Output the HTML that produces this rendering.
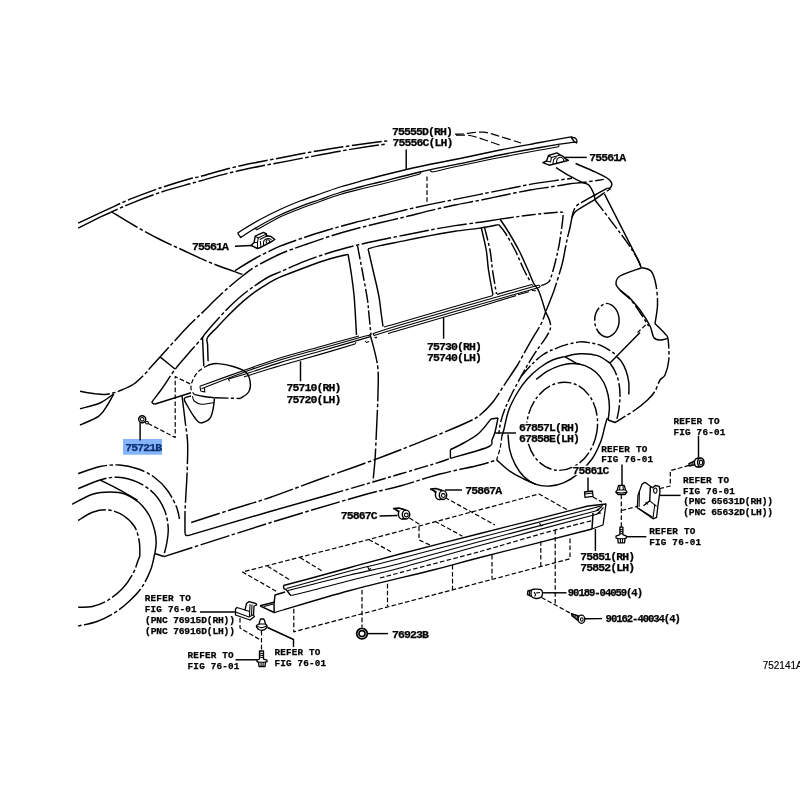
<!DOCTYPE html>
<html><head><meta charset="utf-8"><title>Parts diagram</title>
<style>
html,body{margin:0;padding:0;background:#fff;}
body{width:800px;height:800px;overflow:hidden;font-family:"Liberation Mono",monospace;}
svg{display:block}
path,circle,ellipse,line,rect{fill:none;stroke:#000;stroke-width:1.45;stroke-linecap:butt;stroke-linejoin:round}
.s{}
.t{stroke-width:1.05}
.h{stroke-width:1.3}
.m{stroke-width:1.1}
.c{stroke-dasharray:30 2.5 3.5 2.5}
.c2{stroke-dasharray:14 2.5 3 2.5}
.c3{stroke-dasharray:9 3;stroke-width:1.2}
.d{stroke-dasharray:4.6 2.3;stroke-width:1.2}
.f{fill:#fff}
.k{fill:#000}
text{font-family:"Liberation Mono",monospace;font-weight:bold;fill:#000;stroke:#000;stroke-width:0.25px}
.p{font-size:11.5px;letter-spacing:-0.9px;transform:translate(-0.5px,-0.5px)}
.q{font-size:10.6px;letter-spacing:-1.06px}
.r{font-size:9.3px;letter-spacing:0.2px}
.r2{font-size:9.6px;letter-spacing:-0.15px}
.n{stroke:#000;stroke-width:0.15px;font-family:"Liberation Sans",sans-serif;font-weight:normal;font-size:10px;letter-spacing:0}
</style></head><body>
<div style="will-change:transform;width:800px;height:800px">
<svg width="800" height="800" viewBox="0 0 800 800">
<rect x="0" y="0" width="800" height="800" style="fill:#fff;stroke:none"/>
<rect x="123" y="439" width="39.1" height="15.75" style="fill:#86b4fb;stroke:none"/>
<path class="s" d="M78.2,223.2 L100.0,212.8 L113.0,206.9"/>
<path class="c" d="M113.0,206.9 C115.8,205.6 122.2,202.4 130.0,199.2 C137.8,196.1 150.0,191.4 160.0,188.0 C170.0,184.6 183.3,180.6 190.0,178.7 C196.7,176.8 193.3,178.2 200.0,176.5 C206.7,174.8 220.0,170.7 230.0,168.2 C240.0,165.8 250.0,163.8 260.0,161.8 C270.0,159.8 281.7,157.6 290.0,156.0 C298.3,154.4 301.7,153.7 310.0,152.2 C318.3,150.8 330.0,148.8 340.0,147.3 C350.0,145.8 362.1,144.1 370.0,143.0 C377.9,141.9 384.4,141.3 387.2,141.0" style="stroke-dashoffset:22"/>
<path class="s" d="M78.2,228.2 L100.0,217.2 L110.5,212.5"/>
<path class="c" d="M110.5,212.5 C113.8,211.0 121.8,207.1 130.0,203.8 C138.2,200.4 150.0,195.8 160.0,192.5 C170.0,189.2 183.3,185.7 190.0,183.8 C196.7,181.9 193.3,182.8 200.0,181.0 C206.7,179.2 220.0,175.2 230.0,172.8 C240.0,170.3 250.0,168.3 260.0,166.3 C270.0,164.3 281.7,162.2 290.0,160.6 C298.3,159.0 301.7,158.3 310.0,156.8 C318.3,155.2 330.0,152.9 340.0,151.2 C350.0,149.4 362.1,147.4 370.0,146.2 C377.9,145.1 384.4,144.4 387.2,144.0" style="stroke-dashoffset:22"/>
<path class="c3" d="M455.0,134.2 C456.2,134.2 457.3,134.3 462.0,134.0 C466.7,133.7 476.7,131.8 483.0,132.2 C489.3,132.6 493.7,134.7 500.0,136.5 C506.3,138.3 517.5,141.9 521.0,143.0"/>
<path class="c3" d="M456.0,135.2 C458.3,135.2 465.2,134.7 470.0,135.5 C474.8,136.3 479.6,138.2 485.0,140.0 C490.4,141.8 499.6,145.0 502.5,146.0"/>
<path class="c" d="M111.8,212.0 C115.6,214.3 127.0,221.4 135.0,226.0 C143.0,230.6 152.1,235.5 160.0,239.5 C167.9,243.5 174.2,246.2 182.5,250.0 C190.8,253.8 200.0,258.4 210.0,262.5 C220.0,266.6 237.1,272.4 242.5,274.4"/>
<path class="c" d="M235.0,270.6 C238.3,268.6 247.5,262.6 255.0,258.5 C262.5,254.4 271.7,249.8 280.0,246.2 C288.3,242.7 296.7,240.1 305.0,237.2 C313.3,234.4 321.7,231.9 330.0,229.4 C338.3,226.9 346.7,224.7 355.0,222.5 C363.3,220.3 371.7,218.3 380.0,216.2 C388.3,214.2 396.7,212.0 405.0,210.0 C413.3,208.0 421.7,206.2 430.0,204.4 C438.3,202.6 446.7,201.1 455.0,199.4 C463.3,197.7 471.7,196.1 480.0,194.4 C488.3,192.7 496.7,191.1 505.0,189.4 C513.3,187.7 521.7,185.9 530.0,184.4 C538.3,182.9 548.0,181.6 555.0,180.6 C562.0,179.6 569.2,178.7 572.0,178.3"/>
<path class="c" d="M80.0,391.2 C82.5,391.7 90.8,393.2 95.0,393.8 C99.2,394.3 102.1,394.6 105.0,394.5 C107.9,394.4 110.2,393.6 112.5,393.0 C114.8,392.4 115.2,392.7 118.8,391.2 C122.3,389.7 129.1,387.2 133.8,384.0 C138.4,380.8 144.2,374.6 146.9,371.9 C149.6,369.2 147.8,370.5 150.0,368.0 C152.2,365.5 155.0,362.4 160.0,356.9 C165.0,351.4 175.4,340.0 180.0,335.0 C184.6,330.0 183.3,331.1 187.5,326.9 C191.7,322.7 200.4,314.5 205.0,310.0 C209.6,305.5 210.8,304.0 215.0,300.0 C219.2,296.0 225.2,290.4 230.0,286.2 C234.8,282.1 239.6,278.2 243.8,275.0 C247.9,271.8 249.0,270.4 255.0,266.9 C261.0,263.4 271.7,257.7 280.0,254.0 C288.3,250.3 296.7,247.7 305.0,244.8 C313.3,241.8 321.7,238.9 330.0,236.2 C338.3,233.6 346.7,231.2 355.0,229.0 C363.3,226.8 371.7,224.8 380.0,222.8 C388.3,220.8 396.7,218.9 405.0,216.9 C413.3,214.9 421.7,212.6 430.0,210.6 C438.3,208.6 446.7,206.7 455.0,205.0 C463.3,203.3 471.7,201.9 480.0,200.2 C488.3,198.5 496.7,196.7 505.0,195.0 C513.3,193.3 521.7,191.5 530.0,190.0 C538.3,188.5 548.3,187.3 555.0,186.2 C561.7,185.2 565.4,184.4 570.0,183.8 C574.6,183.1 576.9,183.2 582.5,182.5 C588.1,181.8 600.2,179.9 603.8,179.4"/>
<path class="c" d="M153.0,400.5 C154.5,398.5 158.2,393.9 161.9,388.8 C165.6,383.6 170.7,375.2 175.0,369.4 C179.3,363.6 183.4,359.3 188.0,354.0 C192.6,348.7 199.7,340.9 202.5,337.5 C205.3,334.1 202.5,336.8 205.0,333.8 C207.5,330.7 213.3,324.0 217.5,319.4 C221.7,314.8 225.8,310.3 230.0,306.2 C234.2,302.2 238.3,298.4 242.5,295.0 C246.7,291.6 250.8,288.5 255.0,285.6 C259.2,282.7 263.3,279.8 267.5,277.5 C271.7,275.2 273.8,274.6 280.0,271.9 C286.2,269.2 296.7,264.5 305.0,261.2 C313.3,258.0 321.7,255.1 330.0,252.5 C338.3,249.9 346.7,247.7 355.0,245.6 C363.3,243.5 371.7,241.8 380.0,240.0 C388.3,238.2 396.7,236.7 405.0,235.0 C413.3,233.3 421.7,231.6 430.0,230.0 C438.3,228.4 446.7,226.9 455.0,225.6 C463.3,224.3 472.5,223.3 480.0,222.2 C487.5,221.1 496.7,219.6 500.0,219.1"/>
<path class="c2" d="M500.0,219.1 C505.0,218.4 520.8,216.1 530.0,215.0 C539.2,213.9 549.8,213.0 555.0,212.5 C560.2,212.0 559.9,211.9 561.2,212.2 C562.6,212.6 563.1,211.2 563.1,214.4 C563.1,217.6 562.1,225.3 561.2,231.2 C560.4,237.2 559.6,243.1 558.1,250.0 C556.6,256.9 554.1,267.2 552.5,272.5 C550.9,277.8 550.6,279.7 548.8,281.9 C546.9,284.1 542.5,285.0 541.2,285.6"/>
<path class="s" d="M208.1,361.2 C208.0,358.5 207.7,349.0 207.6,345.0 C207.5,341.0 205.8,340.5 207.5,337.5 C209.2,334.5 213.8,330.9 217.5,326.9 C221.2,322.9 225.8,317.9 230.0,313.8 C234.2,309.6 238.3,305.5 242.5,301.9 C246.7,298.3 250.8,294.9 255.0,291.9 C259.2,288.9 263.3,286.2 267.5,283.8 C271.7,281.3 273.8,279.9 280.0,277.2 C286.2,274.5 296.7,270.6 305.0,267.5 C313.3,264.4 322.8,260.9 330.0,258.8 C337.2,256.6 345.1,255.1 348.1,254.4"/>
<path class="s" d="M202.5,337.5 L203.8,366.2"/>
<path class="s" d="M348.1,254.4 C348.7,257.8 350.5,268.2 351.5,275.0 C352.5,281.8 353.4,288.8 354.0,295.0 C354.6,301.2 354.8,305.3 355.2,312.0 C355.6,318.7 356.3,331.2 356.5,335.0"/>
<path class="c2" d="M357.5,245.6 C358.3,250.0 360.8,262.9 362.5,272.0 C364.2,281.1 366.5,293.3 367.5,300.0 C368.5,306.7 368.1,306.2 368.7,312.0 C369.3,317.8 370.6,331.2 371.0,335.0"/>
<path class="s" d="M368.1,248.8 C368.8,252.0 371.1,262.0 372.5,268.0 C373.9,274.0 375.3,279.7 376.5,285.0 C377.7,290.3 378.8,295.5 379.5,300.0 C380.2,304.5 380.4,307.6 381.0,312.0 C381.6,316.4 382.7,324.1 383.0,326.5"/>
<path class="s" d="M368.1,248.8 C370.1,248.2 373.9,247.0 380.0,245.6 C386.1,244.2 396.7,242.3 405.0,240.6 C413.3,238.9 421.7,237.2 430.0,235.6 C438.3,234.0 446.7,232.5 455.0,231.2 C463.3,230.0 472.7,229.2 480.0,228.1 C487.3,227.0 495.6,225.2 498.8,224.6"/>
<path class="s" d="M481.2,227.5 C482.1,231.2 485.0,242.9 486.2,250.0 C487.5,257.1 487.4,262.5 488.5,270.0 C489.6,277.5 492.2,290.8 493.0,295.0"/>
<path class="c2" d="M484.4,226.9 C485.3,230.8 488.6,242.8 490.0,250.0 C491.4,257.2 491.4,262.7 492.5,270.0 C493.6,277.3 495.8,290.0 496.5,294.0"/>
<path class="s" d="M500.0,219.1 C501.5,221.3 505.6,227.3 508.8,232.5 C511.9,237.7 515.5,243.8 518.8,250.0 C522.0,256.2 525.5,264.5 528.0,270.0 C530.5,275.5 531.7,279.4 533.5,283.0 C535.3,286.6 537.0,286.7 539.0,291.5 C541.0,296.3 544.5,308.5 545.6,311.9"/>
<path class="c2" d="M498.8,224.6 C499.8,225.9 502.3,228.3 505.0,232.5 C507.7,236.7 511.8,243.8 515.0,250.0 C518.2,256.2 521.5,264.8 524.0,270.0 C526.5,275.2 529.0,279.2 530.0,281.0"/>
<path class="c2" d="M545.6,311.9 C546.2,313.2 548.6,317.6 549.4,320.0 C550.2,322.4 550.6,324.4 550.6,326.2 C550.6,328.1 550.3,329.2 549.4,331.2 C548.5,333.3 547.2,335.4 545.0,338.8 C542.8,342.1 539.2,346.9 536.2,351.2 C533.3,355.6 530.0,360.8 527.5,365.0 C525.0,369.2 523.8,371.7 521.2,376.2 C518.8,380.8 515.2,387.1 512.5,392.5 C509.8,397.9 507.0,403.8 505.0,408.8 C503.0,413.8 501.6,418.3 500.6,422.5 C499.6,426.7 499.1,431.9 498.8,433.8"/>
<path class="c" d="M607.5,188.1 C605.4,189.2 599.2,192.7 595.0,195.0 C590.8,197.3 585.6,200.0 582.5,201.9 C579.4,203.8 577.8,204.5 576.2,206.2 C574.7,208.0 574.1,209.0 573.1,212.5 C572.1,216.0 570.9,223.3 570.0,227.5 C569.1,231.7 568.3,233.8 567.5,237.5 C566.7,241.2 565.9,245.4 565.0,250.0 C564.1,254.6 563.7,258.4 561.9,265.0 C560.1,271.6 556.4,283.4 554.4,289.4 C552.4,295.4 551.5,297.2 550.0,301.0 C548.5,304.8 546.3,310.1 545.6,311.9"/>
<path class="s" d="M603.8,193.1 C602.3,194.2 598.5,197.1 595.0,199.4 C591.5,201.7 585.8,204.8 582.5,206.9 C579.2,209.0 576.8,210.1 575.0,211.9 C573.2,213.7 572.4,216.6 571.9,217.5"/>
<path class="c" d="M191.2,522.5 C197.7,520.4 216.9,514.2 230.0,510.0 C243.1,505.8 255.4,502.5 270.0,497.5 C284.6,492.5 302.5,485.4 317.5,480.0 C332.5,474.6 346.2,470.0 360.0,465.0 C373.8,460.0 386.7,455.2 400.0,450.0 C413.3,444.8 428.3,438.8 440.0,434.0 C451.7,429.2 463.3,424.2 470.0,421.0 C476.7,417.8 476.2,418.1 480.0,415.0 C483.8,411.9 488.3,407.7 492.5,402.5 C496.7,397.3 500.8,390.0 505.0,383.8 C509.2,377.5 514.4,370.0 517.5,365.0 C520.6,360.0 521.0,358.5 523.8,353.8 C526.5,349.0 530.8,341.2 533.8,336.2 C536.7,331.2 539.3,327.8 541.2,323.8 C543.2,319.7 544.9,313.9 545.6,311.9"/>
<path class="s" d="M575.6,163.5 C578.8,164.9 589.9,169.6 595.0,171.9 C600.1,174.2 603.6,175.9 606.2,177.5 C608.9,179.1 609.7,180.1 610.6,181.2 C611.5,182.4 612.0,183.3 611.9,184.4 C611.8,185.5 610.7,187.5 610.0,188.1 C609.3,188.7 607.9,188.1 607.5,188.1"/>
<path class="d" d="M610.6,188.8 L603.8,193.1"/>
<path class="s" d="M556.0,167.5 C558.3,169.0 565.6,173.8 570.0,176.2 C574.4,178.8 579.4,181.0 582.5,182.5 C585.6,184.0 586.9,183.1 588.8,185.0 C590.6,186.9 592.7,191.2 593.8,193.8 C594.8,196.2 594.8,199.0 595.0,200.0"/>
<path class="c2" d="M595.0,200.0 C597.1,202.7 602.3,209.4 607.5,216.2 C612.7,223.1 621.2,234.2 626.2,241.2 C631.2,248.3 635.0,254.4 637.5,258.8 C640.0,263.1 640.6,266.0 641.2,267.5"/>
<path class="s" d="M604.4,193.8 L637.5,258.8 L641.2,267.5"/>
<path class="c" d="M641.2,267.5 C642.9,268.1 648.5,268.1 651.0,271.0 C653.5,273.9 654.9,279.3 656.0,285.0 C657.1,290.7 657.7,298.5 657.5,305.0 C657.3,311.5 655.4,320.6 655.0,323.8"/>
<path class="s" d="M641.2,268.0 C637.7,269.3 624.2,273.4 620.0,276.0 C615.8,278.6 616.0,281.4 616.0,283.8 C616.0,286.1 617.7,287.5 620.0,290.0 C622.3,292.5 628.3,297.3 630.0,298.8"/>
<path class="c2" d="M620.0,290.0 C621.7,291.5 626.7,295.0 630.0,298.8 C633.3,302.5 636.9,307.9 640.0,312.5 C643.1,317.1 647.3,324.0 648.8,326.2"/>
<path class="s" d="M628.0,296.0 C630.0,298.3 636.3,305.0 640.0,310.0 C643.7,315.0 647.7,321.4 650.0,326.0 C652.3,330.6 652.1,335.2 653.8,337.5 C655.4,339.8 657.7,339.8 660.0,340.0 C662.3,340.2 666.2,338.8 667.5,338.5"/>
<path class="c" d="M655.0,323.8 C656.7,325.4 662.8,331.1 665.0,333.8 C667.2,336.4 667.5,335.0 668.1,339.4 C668.7,343.8 669.3,354.1 668.8,360.0 C668.2,365.9 666.5,371.7 665.0,375.0 C663.5,378.3 661.7,377.3 660.0,380.0 C658.3,382.7 657.1,387.9 655.0,391.2 C652.9,394.6 650.8,396.9 647.5,400.0 C644.2,403.1 640.2,406.4 635.0,410.0 C629.8,413.6 619.4,419.9 616.2,421.9"/>
<path class="d" d="M645.6,325.0 L637.5,332.5"/>
<path class="s" d="M640.0,332.5 L610.0,363.1"/>
<path class="s" d="M606.9,303.4 A13.7,17 0 0 1 606.9,337.2"/>
<path class="c2" d="M606.9,337.2 A13.7,17 0 0 1 606.9,303.4"/>
<path class="c2" d="M521.2,376.2 C522.7,374.6 526.5,369.8 530.0,366.2 C533.5,362.7 538.3,357.9 542.5,355.0 C546.7,352.1 550.8,350.5 555.0,348.8 C559.2,347.0 563.3,345.5 567.5,344.4 C571.7,343.3 576.2,342.2 580.0,341.9 C583.8,341.6 586.5,342.2 590.0,342.8 C593.5,343.4 597.3,343.9 601.2,345.6 C605.2,347.3 611.1,351.2 613.8,353.1 C616.4,355.0 616.4,356.3 616.9,356.9"/>
<path class="s" d="M616.9,356.9 C617.6,357.6 619.7,358.9 621.2,361.2 C622.8,363.6 625.0,367.7 626.2,371.2 C627.5,374.8 628.3,378.6 628.8,382.5 C629.2,386.4 628.8,392.4 628.8,394.4"/>
<path class="s" d="M501.9,436.2 C502.2,435.2 502.6,434.4 503.8,430.0 C504.9,425.6 506.5,416.2 508.8,410.0 C511.0,403.8 514.4,397.7 517.5,392.5 C520.6,387.3 523.8,382.9 527.5,378.8 C531.2,374.6 535.8,370.6 540.0,367.5 C544.2,364.4 548.3,361.8 552.5,360.0 C556.7,358.2 560.4,357.6 565.0,356.6 C569.6,355.6 574.6,353.9 580.0,353.8 C585.4,353.6 592.5,354.0 597.5,355.6 C602.5,357.2 607.9,361.9 610.0,363.1"/>
<path class="c2" d="M610.0,363.1 C610.8,364.5 613.5,368.0 615.0,371.2 C616.5,374.5 617.9,378.5 618.8,382.5 C619.6,386.5 620.0,390.4 620.0,395.0 C620.0,399.6 619.4,405.5 618.8,410.0 C618.1,414.5 616.7,419.9 616.2,421.9"/>
<path class="d" d="M501.9,436.2 C501.6,438.3 500.9,444.6 500.0,448.5 C499.1,452.4 497.2,458.0 496.6,459.9"/>
<path class="s" d="M536.2,379.4 C538.1,378.0 543.5,373.6 547.5,371.2 C551.5,368.9 555.8,366.9 560.0,365.6 C564.2,364.3 568.3,363.4 572.5,363.4 C576.7,363.4 581.0,364.1 585.0,365.6 C589.0,367.1 593.1,369.7 596.2,372.5 C599.4,375.3 601.8,378.8 603.8,382.5 C605.7,386.2 607.2,390.8 608.1,395.0 C609.0,399.2 609.4,403.3 609.4,407.5 C609.4,411.7 608.3,417.9 608.1,420.0"/>
<path class="s" d="M565.0,356.9 L576.2,363.1 L580.0,364.4"/>
<path class="s" d="M608.1,420.0 L615.0,422.5 L616.2,421.9"/>
<ellipse class="c2" cx="562" cy="426.3" rx="35.3" ry="44.3" transform="rotate(9.5 562 426.3)"/>
<path class="s" d="M508.0,434.5 C508.3,437.1 508.6,445.3 509.8,450.2 C510.9,455.2 512.7,459.9 515.0,464.2 C517.3,468.6 520.2,473.1 523.8,476.5 C527.2,479.9 531.6,482.8 536.0,484.4 C540.4,486.0 545.3,486.3 550.0,486.0 C554.7,485.7 559.3,484.6 564.0,482.6 C568.7,480.6 573.3,477.8 578.0,473.9 C582.7,470.0 588.2,464.4 592.0,459.0 C595.8,453.6 598.6,447.0 600.8,441.5 C602.9,436.0 603.9,429.7 605.0,425.8 C606.1,421.8 606.9,419.3 607.3,418.0"/>
<path class="s" d="M496.6,459.9 C498.8,461.8 505.2,468.1 509.8,471.2 C514.3,474.4 519.4,476.8 523.8,479.0 C528.1,481.2 534.0,483.5 536.0,484.4"/>
<path class="s" d="M450.4,458.4 C456.7,456.5 481.1,450.1 488.0,447.0 C494.9,443.9 490.8,442.5 492.0,440.0 C493.2,437.5 494.0,435.7 495.0,432.0 C496.0,428.3 497.5,420.3 498.0,418.0"/>
<path class="s" d="M498.0,418.0 L491.0,419.0"/>
<path class="s" d="M491.0,419.0 C488.8,421.5 483.2,429.7 478.0,434.0 C472.8,438.3 464.6,442.4 460.0,445.0 C455.4,447.6 452.0,448.8 450.4,449.6"/>
<path class="s" d="M450.4,449.6 L450.4,458.4"/>
<path class="s" d="M494.0,433.0 L516.0,433.0"/>
<path class="c" d="M370.0,333.8 C371.2,339.0 376.2,355.2 377.5,365.0 C378.8,374.8 378.2,381.7 378.0,392.5 C377.8,403.3 377.0,418.8 376.5,430.0 C376.0,441.2 375.6,451.5 375.0,460.0 C374.4,468.5 373.3,477.5 373.0,481.0"/>
<path class="s" d="M160.0,356.9 L175.0,369.0"/>
<path class="s" d="M153.0,400.5 C152.8,400.8 151.8,401.9 152.0,402.5 C152.2,403.1 154.0,403.9 154.4,404.2"/>
<path class="s" d="M154.4,404.2 L191.0,392.8"/>
<path class="d" d="M190.1,383.9 L175.2,376.6 L175.2,437.5 L147.0,422.9"/>
<path class="s" d="M80.0,408.8 C83.3,407.8 94.4,405.5 100.0,403.0 C105.6,400.5 111.5,395.3 113.8,393.8"/>
<path class="s" d="M80.0,425.0 C83.1,423.5 94.2,419.6 98.8,416.2 C103.3,412.9 105.0,408.8 107.5,405.0 C110.0,401.2 112.7,395.6 113.8,393.8"/>
<path class="c" d="M182.0,396.0 C182.5,400.0 184.1,412.2 185.0,420.0 C185.9,427.8 187.2,434.2 187.6,442.5 C188.0,450.8 187.5,460.4 187.2,470.0 C186.9,479.6 186.0,492.7 185.6,500.0 C185.2,507.3 185.1,508.4 185.0,514.0 C184.9,519.6 185.0,530.2 185.0,533.5"/>
<path class="s" d="M185.0,533.5 C185.2,533.8 185.5,534.9 186.0,535.3 C186.5,535.6 187.7,535.5 188.0,535.6"/>
<path class="s" d="M188.0,535.6 L270.0,511.5 L330.0,494.5"/>
<path class="c2" d="M330.0,494.5 C337.2,492.4 361.3,485.4 373.0,482.0 C384.7,478.6 388.8,477.3 400.0,474.0 C411.2,470.7 431.7,464.6 440.0,462.0 C448.3,459.4 448.3,459.0 450.0,458.4"/>
<path class="s" d="M154.8,553.5 L163.8,556.5"/>
<path class="c" d="M164.0,556.6 C181.7,551.0 237.3,532.9 270.0,522.8 C302.7,512.7 338.3,502.1 360.0,496.0 C381.7,489.9 386.7,489.7 400.0,486.0 C413.3,482.3 426.7,477.5 440.0,474.0 C453.3,470.5 470.6,467.4 480.0,465.0 C489.4,462.6 493.8,460.8 496.6,459.9"/>
<path class="c" d="M78.2,473.7 C81.9,472.5 93.1,467.9 100.0,466.5 C106.9,465.1 113.2,464.6 119.5,465.0 C125.8,465.4 131.8,466.8 137.5,468.8 C143.2,470.8 149.0,473.4 154.0,477.0 C159.0,480.6 163.8,485.5 167.5,490.5 C171.2,495.5 174.5,502.2 176.5,507.0 C178.5,511.8 179.0,517.0 179.5,519.0"/>
<path class="c" d="M78.2,488.7 C81.9,487.2 93.4,481.9 100.0,480.0 C106.6,478.1 111.8,476.9 118.0,477.3 C124.2,477.7 131.5,479.6 137.5,482.2 C143.5,484.9 149.5,488.9 154.0,493.5 C158.5,498.1 162.1,504.2 164.5,510.0 C166.9,515.8 167.9,522.5 168.2,528.0 C168.6,533.5 167.5,538.4 166.8,543.0 C166.0,547.6 164.2,553.6 163.8,555.8"/>
<path class="s" d="M72.2,504.3 C75.6,502.6 86.1,496.3 92.5,494.2 C98.9,492.2 105.0,492.0 110.5,492.0 C116.0,492.0 120.8,492.5 125.5,494.2 C130.2,496.0 135.0,498.9 139.0,502.5 C143.0,506.1 146.9,511.2 149.5,516.0 C152.1,520.8 153.6,526.5 154.8,531.0 C155.9,535.5 156.2,539.2 156.2,543.0 C156.2,546.8 155.0,551.8 154.8,553.5"/>
<path class="s" d="M100.0,480.0 C103.2,481.6 113.2,486.4 119.5,489.8 C125.8,493.1 134.5,498.5 137.5,500.2"/>
<path class="c" d="M78.2,520.5 C80.6,519.1 87.4,514.0 92.5,512.2 C97.6,510.5 103.8,509.4 109.0,510.0 C114.2,510.6 119.8,513.2 124.0,516.0 C128.2,518.8 132.0,522.5 134.5,526.5 C137.0,530.5 138.1,535.2 139.0,540.0 C139.9,544.8 139.9,551.7 139.8,555.0 C139.6,558.3 139.4,556.9 138.2,560.0 C137.1,563.1 135.6,568.8 133.0,573.5 C130.4,578.2 126.8,584.0 122.5,588.5 C118.2,593.0 112.5,597.5 107.5,600.5 C102.5,603.5 97.4,605.4 92.5,606.5 C87.6,607.6 80.6,607.1 78.2,607.2"/>
<path class="c" d="M154.8,553.5 C154.1,556.1 153.1,563.4 151.0,569.0 C148.9,574.6 145.5,581.8 142.0,587.0 C138.5,592.2 134.5,596.2 130.0,600.5 C125.5,604.8 120.5,609.0 115.0,612.5 C109.5,616.0 103.1,619.2 97.0,621.5 C90.9,623.8 81.4,625.2 78.2,626.0"/>
<path class="d" d="M208.0,365.2 C206.4,366.3 200.8,369.1 198.2,371.7 C195.7,374.3 193.8,377.8 192.6,380.6 C191.4,383.4 190.7,386.4 191.0,388.8 C191.3,391.1 193.7,393.5 194.2,394.4"/>
<path class="s" d="M194.2,394.4 C195.8,394.8 200.6,395.9 204.0,396.5 C207.4,397.1 212.8,397.5 214.5,397.7"/>
<path class="c2" d="M214.5,397.7 L240.5,398.5"/>
<path class="s" d="M240.5,398.5 C241.8,397.4 247.0,394.7 248.6,392.0 C250.2,389.3 250.7,385.5 250.2,382.2 C249.8,379.0 248.9,375.1 246.2,372.5 C243.5,369.9 238.7,368.3 234.0,366.8 C229.3,365.3 222.1,363.9 217.8,363.6 C213.4,363.3 209.6,364.9 208.0,365.2"/>
<path class="s" d="M191.0,396.0 C189.9,396.4 185.1,397.0 184.4,398.5 C183.7,400.0 185.1,401.8 186.9,405.0 C188.7,408.2 192.7,415.0 195.0,418.0 C197.3,421.0 198.3,422.8 200.7,422.9 C203.1,423.0 207.6,421.0 209.6,418.8 C211.6,416.6 212.1,413.3 212.9,409.9 C213.7,406.5 214.2,400.4 214.5,398.5"/>
<path class="t" d="M192.5,396.0 C192.8,396.8 192.7,399.6 194.2,401.0 C195.7,402.4 198.2,403.9 201.5,404.2 C204.8,404.4 211.7,402.8 213.7,402.5"/>
<path class="h" d="M238.0,233.9 C238.3,233.5 236.3,233.9 240.0,231.5 C243.7,229.1 253.3,223.2 260.0,219.5 C266.7,215.8 273.3,212.6 280.0,209.5 C286.7,206.4 293.3,203.6 300.0,201.0 C306.7,198.4 313.3,196.3 320.0,194.0 C326.7,191.7 333.3,189.1 340.0,187.0 C346.7,184.9 353.3,183.1 360.0,181.3 C366.7,179.5 370.0,178.5 380.0,176.0 C390.0,173.5 406.7,169.4 420.0,166.5 C433.3,163.6 446.7,161.2 460.0,158.5 C473.3,155.8 486.7,152.7 500.0,150.0 C513.3,147.3 528.2,144.7 540.0,142.5 C551.8,140.3 565.8,137.7 571.0,136.8"/>
<path class="h" d="M571.0,136.8 L575.5,138.2 L577.0,140.5 L576.6,142.8 L574.4,142.0"/>
<path class="s" d="M571.0,136.8 L574.4,142.0"/>
<path class="h" d="M241.0,237.6 C241.2,237.4 238.8,238.5 242.0,236.5 C245.2,234.5 253.7,229.1 260.0,225.5 C266.3,221.9 273.3,218.1 280.0,215.0 C286.7,211.9 293.3,209.3 300.0,206.7 C306.7,204.1 313.3,201.9 320.0,199.5 C326.7,197.1 333.3,194.6 340.0,192.5 C346.7,190.4 353.3,188.8 360.0,187.0 C366.7,185.2 370.0,184.5 380.0,182.0 C390.0,179.5 406.7,175.1 420.0,172.0 C433.3,168.9 446.7,166.5 460.0,163.7 C473.3,160.9 486.7,157.7 500.0,155.0 C513.3,152.3 527.9,149.6 540.0,147.5 C552.1,145.4 566.4,143.2 572.5,142.4 C578.6,141.6 575.9,142.7 576.6,142.8"/>
<path class="h" d="M238.0,233.9 L241.0,237.6"/>
<path class="t" d="M256.5,230.0 C260.4,227.8 272.8,220.6 280.0,217.0 C287.2,213.4 293.3,211.3 300.0,208.7 C306.7,206.1 313.3,203.9 320.0,201.5 C326.7,199.1 333.3,196.6 340.0,194.5 C346.7,192.4 353.3,190.9 360.0,189.2 C366.7,187.5 370.0,187.0 380.0,184.5 C390.0,182.0 413.3,175.8 420.0,174.0"/>
<path class="t" d="M255.5,228.0 L256.5,230.0"/>
<path class="t" d="M420.0,174.0 L421.0,172.3"/>
<path class="t" d="M432.0,172.0 C436.7,171.0 448.7,168.2 460.0,165.8 C471.3,163.4 486.7,160.1 500.0,157.5 C513.3,154.9 530.5,151.8 540.0,150.0 C549.5,148.2 553.8,147.6 557.0,147.0 C560.2,146.4 558.7,146.4 559.0,146.3"/>
<path class="t" d="M430.0,170.5 L432.0,172.0"/>
<path class="t" d="M559.0,146.3 L558.8,145.0"/>
<path class="d" d="M427.0,176.5 L427.0,204.0"/>
<path class="m" d="M199.9,386.3 C208.2,383.3 236.7,372.9 250.0,368.2 C263.4,363.5 268.3,361.6 280.0,358.0 C291.7,354.4 306.8,350.4 320.0,346.7 C333.2,343.0 352.5,337.8 359.0,336.0"/>
<path class="m" d="M201.5,388.8 C209.6,385.6 236.9,374.9 250.0,370.1 C263.1,365.3 268.3,363.6 280.0,360.0 C291.7,356.4 306.7,352.6 320.0,348.8 C333.3,345.1 351.5,339.8 360.0,337.5 C368.5,335.2 369.2,335.4 371.0,335.0"/>
<path class="m" d="M228.3,379.0 C231.9,377.9 241.4,375.2 250.0,372.5 C258.6,369.8 268.3,366.1 280.0,362.6 C291.7,359.1 304.9,355.6 320.0,351.3 C335.1,347.0 362.1,339.1 370.5,336.6"/>
<path class="m" d="M244.0,376.9 C245.0,376.6 244.0,376.9 250.0,375.0 C256.0,373.1 268.3,369.2 280.0,365.8 C291.7,362.4 307.5,358.0 320.0,354.4 C332.5,350.8 349.2,345.7 355.0,344.0"/>
<path class="t" d="M355.0,344.0 L356.0,342.3"/>
<path class="t" d="M228.3,379.0 L229.5,381.3"/>
<path class="m" d="M199.9,386.3 L200.8,391.0 L204.8,392.0 L204.5,388.0"/>
<path class="t" d="M365.0,341.0 L366.5,342.5 L369.0,341.5"/>
<path class="m" d="M384.0,327.0 C386.7,326.2 387.3,326.2 400.0,322.5 C412.7,318.8 444.5,309.5 460.0,305.0 C475.5,300.5 487.5,297.1 493.0,295.5"/>
<path class="m" d="M497.0,294.4 C500.0,293.5 509.2,290.8 515.0,289.2 C520.8,287.6 529.2,285.3 532.0,284.5"/>
<path class="m" d="M373.0,333.5 C377.5,332.1 385.5,329.3 400.0,325.0 C414.5,320.7 441.7,312.8 460.0,307.5 C478.3,302.2 496.8,296.9 510.0,293.2 C523.2,289.4 534.2,286.4 539.0,285.0"/>
<path class="m" d="M374.0,335.6 C378.3,334.2 385.7,331.8 400.0,327.5 C414.3,323.2 441.7,315.3 460.0,310.0 C478.3,304.7 496.8,299.4 510.0,295.7 C523.2,291.9 534.2,288.9 539.0,287.5"/>
<path class="m" d="M388.0,333.6 C390.0,333.0 388.0,333.5 400.0,330.0 C412.0,326.5 440.7,318.2 460.0,312.5 C479.3,306.8 506.7,298.4 516.0,295.6"/>
<path class="t" d="M373.0,333.5 L374.0,335.6"/>
<path class="t" d="M539.0,285.0 L540.2,286.6 L539.0,287.5"/>
<path class="t" d="M532.0,284.5 L533.0,285.8"/>
<path class="t" d="M518.0,294.8 L529.0,291.8"/>
<path class="t" d="M532.0,290.5 L536.0,290.8"/>
<path class="t" d="M374.5,337.0 L376.0,338.0 L377.0,336.8"/>
<path class="h" d="M283.5,585.5 C287.9,584.3 298.9,581.5 310.0,578.5 C321.1,575.5 335.0,571.6 350.0,567.5 C365.0,563.4 378.3,559.7 400.0,554.0 C421.7,548.3 456.7,539.5 480.0,533.5 C503.3,527.5 522.0,522.9 540.0,518.3 C558.0,513.7 580.0,508.1 588.0,506.0"/>
<path class="h" d="M588.0,506.0 L606.0,504.0 L603.0,525.0 L592.0,529.0"/>
<path class="h" d="M592.0,529.0 C573.3,533.8 506.5,550.7 480.0,557.5 C453.5,564.3 454.7,564.5 433.0,570.0 C411.3,575.5 375.0,583.8 350.0,590.5 C325.0,597.2 295.6,606.3 283.0,610.0 C270.4,613.7 275.7,612.1 274.2,612.5"/>
<path class="m" d="M286.5,588.5 C290.4,587.4 299.4,584.9 310.0,582.0 C320.6,579.1 335.0,574.9 350.0,571.0 C365.0,567.1 378.3,564.1 400.0,558.5 C421.7,552.9 449.0,545.6 480.0,537.5 C511.0,529.4 566.7,515.0 586.0,510.0 C605.3,505.0 593.2,508.1 596.0,507.3 C598.8,506.6 601.8,505.8 603.0,505.5"/>
<path class="m" d="M288.0,590.5 C291.7,589.6 299.7,587.6 310.0,585.0 C320.3,582.4 335.0,578.6 350.0,575.0 C365.0,571.4 378.3,569.1 400.0,563.5 C421.7,557.9 448.7,549.9 480.0,541.5 C511.3,533.1 568.5,518.2 588.0,513.0 C607.5,507.8 594.7,511.1 597.0,510.0 C599.3,508.9 601.2,507.1 602.0,506.5"/>
<path class="m" d="M291.5,595.5 C294.6,594.8 300.2,593.5 310.0,591.0 C319.8,588.5 335.0,584.3 350.0,580.5 C365.0,576.7 378.3,573.8 400.0,568.0 C421.7,562.2 448.3,554.2 480.0,545.5 C511.7,536.8 570.3,521.4 590.0,516.0 C609.7,510.6 595.8,514.4 598.0,513.0 C600.2,511.6 602.6,508.4 603.5,507.5"/>
<path class="d" d="M380.0,578.0 C385.0,576.7 393.3,574.4 410.0,570.0 C426.7,565.6 457.3,557.8 480.0,551.5 C502.7,545.2 527.2,537.7 546.0,532.5 C564.8,527.3 584.8,522.5 592.5,520.5"/>
<path class="s" d="M593.0,513.0 L592.0,529.0"/>
<path class="t" d="M367.5,566.5 L369.0,569.5 L371.0,568.5"/>
<path class="t" d="M539.5,523.0 L541.0,526.0 L543.0,525.0"/>
<path class="s" d="M283.5,585.5 C283.6,586.0 283.5,587.8 284.0,588.5 C284.5,589.2 285.5,589.0 286.5,590.0 C287.5,591.0 289.2,593.6 290.0,594.5 C290.8,595.4 291.2,595.3 291.5,595.5"/>
<path class="s" d="M285.0,592.0 L275.0,595.0 L274.0,604.0 L274.2,612.5"/>
<path class="s" d="M260.0,605.8 L274.2,612.5"/>
<path class="s" d="M260.0,605.8 L275.0,602.0"/>
<path class="t" d="M263.8,606.5 L273.5,604.0"/>
<path class="d" d="M276.2,591.2 L242.5,572.0 L368.8,539.5 L539.0,494.0 L567.5,510.0"/>
<path class="d" d="M267.5,566.2 L290.0,580.0"/>
<path class="d" d="M300.0,557.5 L322.5,571.2"/>
<path class="d" d="M368.8,539.5 L392.5,552.5"/>
<path class="d" d="M435.0,521.2 L462.5,536.2"/>
<path class="d" d="M445.0,497.5 L495.0,525.0"/>
<path class="d" d="M293.8,608.8 L293.8,631.8 L570.0,558.8 L570.0,536.2"/>
<path class="d" d="M362.0,590.0 L362.0,627.5"/>
<path class="d" d="M387.5,583.8 L387.5,606.2"/>
<path class="d" d="M452.5,565.0 L452.5,589.5"/>
<path class="d" d="M492.0,555.0 L492.0,578.8"/>
<path class="d" d="M540.8,541.2 L540.8,566.2"/>
<path class="d" d="M555.2,530.0 L555.2,604.0"/>
<path class="d" d="M541.5,597.5 L570.0,613.0"/>
<path class="d" d="M409.5,518.0 L419.0,524.0 L419.0,540.0 L430.0,545.0"/>
<path class="s" d="M406.2,149.5 L406.2,169.5"/>
<path class="s" d="M235.0,246.2 L251.1,245.5"/>
<path class="s" d="M565.0,157.4 L586.8,157.4"/>
<path class="s" d="M300.5,361.2 L300.5,381.2"/>
<path class="s" d="M443.6,317.5 L443.6,338.8"/>
<path class="s" d="M140.1,422.5 L140.1,440.5"/>
<path class="s" d="M445.0,490.0 L462.0,490.0"/>
<path class="s" d="M379.5,516.0 L397.5,515.5"/>
<path class="s" d="M588.0,477.5 L588.0,491.0"/>
<path class="s" d="M595.4,529.0 L595.4,551.0"/>
<path class="s" d="M368.0,633.6 L388.0,633.6"/>
<path class="s" d="M542.5,592.8 L566.5,592.8"/>
<path class="s" d="M585.0,618.8 L602.0,618.6"/>
<path class="s" d="M698.5,436.0 L698.5,457.6"/>
<path class="s" d="M622.0,464.5 L622.0,485.0"/>
<path class="s" d="M626.3,536.7 L646.3,536.7"/>
<path class="s" d="M659.3,495.4 L680.6,495.4"/>
<path class="s" d="M200.0,612.0 L235.5,612.0"/>
<path class="s" d="M235.5,659.8 L257.5,659.8"/>
<path class="s" d="M267.5,627.5 L293.5,639.5 L293.5,647.0"/>
<path class="d" d="M689.0,465.4 L670.3,470.6 L670.3,486.0 L660.0,488.5"/>
<path class="d" d="M621.3,494.7 L621.3,527.0"/>
<path class="d" d="M621.5,510.5 L637.3,506.4"/>
<path class="d" d="M593.0,497.0 L602.0,502.0"/>
<path class="d" d="M240.0,618.0 L240.0,628.0 L260.5,640.0"/>
<path class="d" d="M261.5,631.0 L261.5,650.5"/>
<path class="s" d="M251.1,245.5 L254.1,242.5 L255.2,236.1 L263.5,232.4 L266.5,233.9 L266.3,236.3 L267.2,235.8 L271.0,236.5 L274.8,239.5 L272.5,241.0 L259.8,247.8 L257.5,248.5Z"/>
<path class="t" d="M255.2,236.1 L258.2,238.0 L266.5,233.9"/>
<path class="t" d="M258.2,238.0 L257.5,242.5 L254.1,242.5"/>
<path class="t" d="M259.8,239.5 L266.3,236.3"/>
<path class="t" d="M260.3,241.0 L260.9,246.6"/>
<path class="t" d="M257.5,242.5 L257.5,248.5"/>
<circle cx="267.8" cy="241.6" r="1.8" class="t"/>
<path class="t" d="M263.5,245.5 C263.6,244.7 263.2,241.7 264.0,240.5 C264.8,239.3 266.8,238.7 268.0,238.5 C269.2,238.3 270.9,239.3 271.5,239.5"/>
<path class="s" d="M542.9,162.6 L546.5,161.0 L548.5,155.5 L556.8,152.9 L560.5,155.1 L563.5,156.6 L565.0,158.5 L568.4,160.4 L565.0,161.3 L549.2,165.2Z"/>
<path class="t" d="M548.5,155.5 L551.5,157.6 L560.5,155.1"/>
<path class="t" d="M551.5,157.6 L550.5,162.0 L546.5,161.0"/>
<path class="t" d="M556.5,163.3 C556.6,162.6 556.6,160.3 557.2,159.3 C557.8,158.3 559.3,157.4 560.3,157.3 C561.3,157.2 562.8,158.3 563.3,159.0 C563.8,159.7 563.5,161.2 563.6,161.6"/>
<path class="t" d="M553.0,164.2 C553.1,163.4 553.2,160.6 553.8,159.5 C554.4,158.4 556.0,157.8 556.5,157.5"/>
<circle cx="142.2" cy="419.3" r="3.5"/><circle cx="142.2" cy="419.3" r="1.8" class="t"/><circle cx="146.9" cy="422.6" r="1.4" class="t"/>
<ellipse cx="439" cy="494.5" rx="3.6" ry="5.1" class="f"/>
<path class="f" d="M436.4,491.9 L430.5,489.0 L436.0,488.5 L439.0,489.5"/>
<path class="t" d="M432.0,489.5 L436.0,493.0"/>
<ellipse cx="443" cy="495.0" rx="3.7" ry="4.4" class="f"/>
<circle cx="443.3" cy="495.5" r="1.9" class="t"/>
<path class="s" d="M439.0,489.4 L443.0,490.6"/>
<path class="s" d="M439.0,499.6 L443.0,499.4"/>
<ellipse cx="402" cy="514" rx="3.6" ry="5.1" class="f"/>
<path class="f" d="M399.4,511.4 L393.5,508.5 L399.0,508.0 L402.0,509.0"/>
<path class="t" d="M395.0,509.0 L399.0,512.5"/>
<ellipse cx="406" cy="514.5" rx="3.7" ry="4.4" class="f"/>
<circle cx="406.3" cy="515" r="1.9" class="t"/>
<path class="s" d="M402.0,508.9 L406.0,510.1"/>
<path class="s" d="M402.0,519.1 L406.0,518.9"/>
<path class="h" d="M584.5,492.0 L592.5,491.0 L593.0,496.3 L585.0,497.3Z"/>
<path class="t" d="M585.0,494.0 L592.7,493.0"/>
<circle cx="362" cy="633.6" r="5.3" style="stroke-width:1.8"/><circle cx="362" cy="633.6" r="3" style="stroke-width:1.6"/>
<path class="h" d="M531.5,590.2 C532.1,589.0 533.4,589.3 535.0,589.2 C536.6,589.1 539.8,589.0 541.0,589.6 C542.2,590.2 542.5,591.8 542.5,593.0 C542.5,594.2 542.4,596.1 541.3,597.0 C540.2,597.9 537.6,598.6 536.0,598.5 C534.4,598.4 532.2,597.7 531.5,596.3 C530.8,594.9 530.9,591.4 531.5,590.2Z"/>
<path class="s" d="M531.5,590.2 L528.0,590.8 L527.5,594.5 L531.5,596.3"/>
<path class="t" d="M529.5,590.6 L529.5,595.4"/>
<path class="t" d="M534.0,592.0 C534.2,592.4 535.4,593.8 535.5,594.5 C535.6,595.2 534.7,596.2 534.5,596.5"/>
<path class="t" d="M536.0,593.0 L540.0,592.5"/>
<ellipse cx="581.5" cy="619.3" rx="3.3" ry="4.1" class="h"/><ellipse cx="581.8" cy="619.5" rx="1.3" ry="1.8" class="t"/>
<path class="s" d="M579.2,616.2 L571.5,613.6 L572.0,615.6 L578.5,621.0"/>
<path class="t" d="M573.5,614.3 L574.3,617.2"/>
<path class="t" d="M575.5,615.0 L576.3,618.8"/>
<path class="t" d="M577.5,615.7 L578.0,620.2"/>
<ellipse cx="697.6" cy="462.6" rx="3.2" ry="4.4" class="f"/><ellipse cx="700.8" cy="462.3" rx="3.2" ry="4.4" class="f"/><ellipse cx="701" cy="462.5" rx="1.6" ry="2.4" class="t"/>
<path class="s" d="M697.6,458.2 L700.8,457.9"/>
<path class="s" d="M697.6,467.0 L700.8,466.7"/>
<path class="s" d="M694.6,461.0 L689.0,463.6 L689.3,466.0 L695.0,464.6"/>
<path class="t" d="M690.8,462.9 L691.2,465.5"/>
<path class="t" d="M692.6,462.1 L693.0,465.1"/>
<path class="h" d="M618.6,485.4 L624.2,485.4 L625.6,490.0 L627.0,492.0 L625.0,494.5 L618.0,494.5 L615.8,492.0 L617.2,490.0Z"/>
<path class="t" d="M617.2,490.0 L625.6,490.0"/>
<path class="t" d="M620.0,485.4 L619.6,490.0"/>
<path class="t" d="M623.0,485.4 L623.4,490.0"/>
<path class="t" d="M615.8,492.0 C616.7,492.2 619.5,493.0 621.4,493.0 C623.3,493.0 626.1,492.2 627.0,492.0"/>
<path class="h" d="M619.9,527.2 L619.9,534.6 L616.0,536.2 L616.0,538.0 L617.7,538.7 L618.2,542.8 L624.6,542.8 L625.0,538.7 L626.4,538.0 L626.4,536.2 L622.9,534.6 L622.9,527.2Z"/>
<path class="t" d="M617.7,538.7 L625.0,538.7"/>
<path class="t" d="M620.3,538.7 L620.5,542.8"/>
<path class="t" d="M622.6,538.7 L622.4,542.8"/>
<path class="t" d="M619.9,529.2 L622.9,530.0"/>
<path class="t" d="M619.9,531.2 L622.9,532.0"/>
<path class="t" d="M619.9,533.2 L622.9,534.0"/>
<path class="h" d="M644.9,482.3 L641.9,484.4 L638.0,495.4 L637.3,507.8 L653.1,518.8 L656.6,517.4 L658.0,505.0 L660.0,491.3 L659.3,486.4 L655.2,485.5 L652.5,487.8Z"/>
<path class="t" d="M639.4,491.3 L639.1,507.1"/>
<path class="t" d="M638.7,508.5 L653.1,517.4 L654.8,504.5"/>
<path class="s" d="M650.4,486.4 L649.7,500.9 L643.5,505.7"/>
<path class="t" d="M649.7,500.9 L656.6,506.4"/>
<path class="t" d="M645.5,502.0 L648.0,504.5"/>
<ellipse cx="655.3" cy="490.6" rx="1.7" ry="2.6" class="t"/>
<path class="h" d="M235.5,609.0 L237.0,607.5 L245.0,610.0 L246.5,603.5 L249.0,601.5 L256.0,603.5 L256.8,604.8 L254.0,606.0 L253.5,615.0 L254.5,616.5 L250.0,620.0 L235.5,615.0Z"/>
<path class="t" d="M235.5,612.0 L249.0,617.0 L253.5,614.5"/>
<path class="t" d="M250.0,604.0 L249.5,616.5"/>
<path class="t" d="M252.0,604.5 L251.5,615.5"/>
<path class="t" d="M245.0,610.0 L249.7,611.5"/>
<path class="h" d="M260.0,620.5 L260.6,619.0 L263.8,619.0 L264.5,620.5 L265.5,624.0 L267.0,625.5 L267.0,627.2 L264.5,629.7 L261.5,630.5 L258.5,629.5 L256.5,627.0 L256.5,625.5 L259.0,624.0Z"/>
<path class="t" d="M256.5,626.0 C257.4,626.3 259.9,627.6 261.7,627.6 C263.4,627.6 266.1,626.3 267.0,626.0"/>
<path class="t" d="M259.0,624.0 L265.5,624.0"/>
<path class="h" d="M259.5,651.0 L259.5,659.0 L257.0,660.0 L257.0,661.7 L258.5,662.2 L259.0,666.5 L265.0,666.5 L265.5,662.2 L267.0,661.7 L267.0,660.0 L263.5,659.0 L263.5,651.0Z"/>
<path class="t" d="M258.5,662.2 L265.5,662.2"/>
<path class="t" d="M261.0,662.2 L261.2,666.5"/>
<path class="t" d="M263.2,662.2 L263.0,666.5"/>
<path class="t" d="M259.5,653.0 L263.5,653.8"/>
<path class="t" d="M259.5,655.0 L263.5,655.8"/>
<path class="t" d="M259.5,657.0 L263.5,657.8"/>
<text class="p" x="392.5" y="135.7">75555D(RH)</text>
<text class="p" x="392.9" y="146.9">75556C(LH)</text>
<text class="p" x="192.5" y="250.3">75561A</text>
<text class="p" x="589.75" y="161.5">75561A</text>
<text class="p" x="286.9" y="391.9">75710(RH)</text>
<text class="p" x="286.9" y="403.1">75720(LH)</text>
<text class="p" x="427.5" y="350.2">75730(RH)</text>
<text class="p" x="427.5" y="361.5">75740(LH)</text>
<rect x="518.5" y="422.6" width="60" height="21" style="fill:#fff;stroke:none"/>
<text class="p" x="519.5" y="431">67857L(RH)</text>
<text class="p" x="519.5" y="442.2">67858E(LH)</text>
<text class="p" x="125.75" y="451" style="fill:#0c2f74;stroke:#0c2f74">75721B</text>
<rect x="572.5" y="465.6" width="37.5" height="9.6" style="fill:#fff;stroke:none"/>
<text class="p" x="573" y="474">75861C</text>
<text class="p" x="465.75" y="494">75867A</text>
<text class="p" x="341.25" y="519">75867C</text>
<text class="p" x="580.75" y="560.5">75851(RH)</text>
<text class="p" x="580.75" y="571.7">75852(LH)</text>
<text class="p" x="392.5" y="638">76923B</text>
<text class="q" x="567.8" y="596.2">90189-04059(4)</text>
<text class="q" x="605.6" y="622">90162-40034(4)</text>
<text class="r" x="673.5" y="424">REFER TO</text>
<text class="r" x="673.5" y="435">FIG 76-01</text>
<text class="r" x="601.25" y="451.8">REFER TO</text>
<text class="r" x="601.25" y="462.4">FIG 76-01</text>
<text class="r" x="683" y="483.2">REFER TO</text>
<text class="r" x="683" y="494">FIG 76-01</text>
<text class="r2" x="683.2" y="504">(PNC 65631D(RH))</text>
<text class="r2" x="683.2" y="514.9">(PNC 65632D(LH))</text>
<text class="r" x="649.25" y="533.8">REFER TO</text>
<text class="r" x="649.25" y="544.6">FIG 76-01</text>
<text class="r" x="144.8" y="601.2">REFER TO</text>
<text class="r" x="144.8" y="612">FIG 76-01</text>
<text class="r2" x="145.1" y="622.7">(PNC 76915D(RH))</text>
<text class="r2" x="145.1" y="633.6">(PNC 76916D(LH))</text>
<text class="r" x="187.6" y="658.4">REFER TO</text>
<text class="r" x="187.6" y="669">FIG 76-01</text>
<text class="r" x="274.4" y="654.9">REFER TO</text>
<text class="r" x="274.4" y="665.6">FIG 76-01</text>
<text class="n" x="762.7" y="668.5">752141A</text>
</svg>
</div>
</body></html>
